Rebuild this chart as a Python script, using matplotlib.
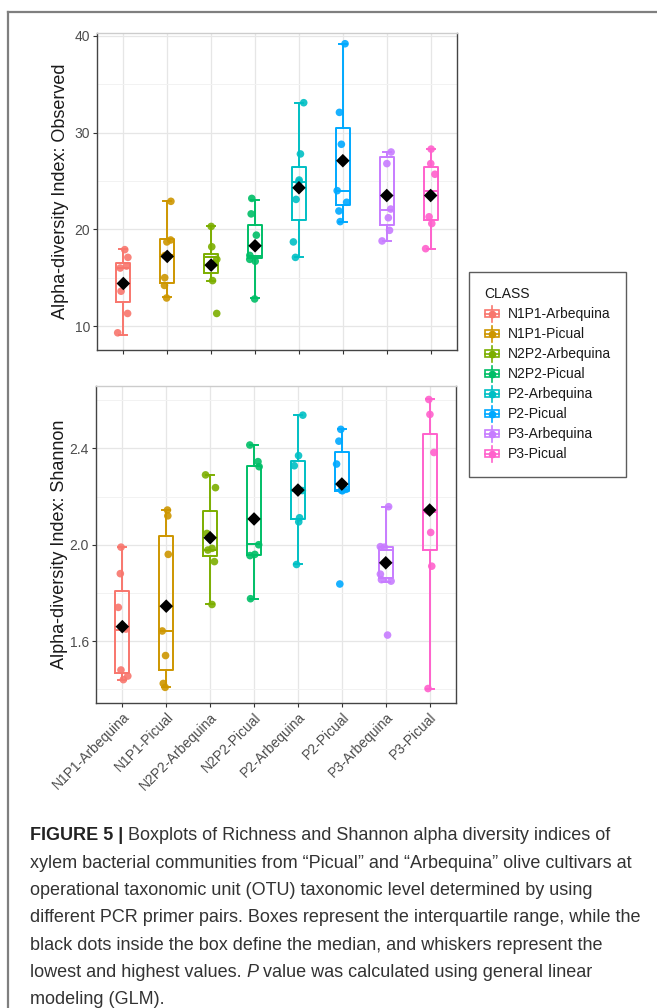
import numpy as np
import matplotlib
matplotlib.use("Agg")
import matplotlib.pyplot as plt
from matplotlib.lines import Line2D
from matplotlib.patches import Rectangle
from matplotlib.legend_handler import HandlerBase

plt.rcParams['font.family'] = ['Liberation Sans', 'DejaVu Sans']

# ---------------- data ----------------
classes = ["N1P1-Arbequina", "N1P1-Picual", "N2P2-Arbequina", "N2P2-Picual",
           "P2-Arbequina", "P2-Picual", "P3-Arbequina", "P3-Picual"]
colors = ['#F8766D', '#CD9600', '#7CAE00', '#00BE67',
          '#00BFC4', '#00A9FF', '#C77CFF', '#FF61CC']

# Observed richness
obs_points = [
    [17.9, 17.1, 16.2, 16.0, 13.6, 11.3, 9.3],
    [22.9, 18.9, 18.7, 17.3, 15.0, 14.2, 12.9],
    [20.3, 18.2, 16.9, 16.5, 14.7, 11.3],
    [23.2, 21.6, 19.4, 17.3, 16.9, 16.7, 12.8],
    [33.1, 27.8, 25.1, 24.9, 23.1, 18.7, 17.1],
    [39.2, 32.1, 28.8, 24.0, 22.8, 21.9, 20.8],
    [28.0, 26.8, 22.1, 21.2, 19.9, 18.8],
    [28.3, 26.8, 25.7, 21.3, 20.6, 18.0],
]
obs_whislo = [9.1, 13.0, 14.7, 12.9, 17.1, 20.8, 18.8, 18.0]
obs_q1 = [12.5, 14.5, 15.5, 17.0, 21.0, 22.5, 20.5, 21.0]
obs_med = [16.0, 17.3, 17.1, 17.2, 24.9, 24.0, 22.0, 24.0]
obs_q3 = [16.5, 19.0, 17.5, 20.5, 26.5, 30.5, 27.5, 26.5]
obs_whishi = [18.0, 22.9, 20.3, 23.0, 33.1, 39.2, 28.0, 28.3]
obs_mean = [14.4, 17.2, 16.3, 18.3, 24.3, 27.1, 23.5, 23.5]

# Shannon
sha_points = [
    [1.99, 1.88, 1.74, 1.65, 1.48, 1.455, 1.44],
    [2.144, 2.12, 1.96, 1.642, 1.54, 1.424, 1.408],
    [2.29, 2.237, 2.047, 1.985, 1.978, 1.93, 1.752],
    [2.414, 2.345, 2.324, 2.0, 1.96, 1.955, 1.776],
    [2.538, 2.37, 2.328, 2.225, 2.112, 2.095, 1.918],
    [2.479, 2.43, 2.335, 2.23, 2.226, 2.224, 1.837],
    [2.158, 1.992, 1.99, 1.878, 1.855, 1.849, 1.625],
    [2.603, 2.541, 2.383, 2.14, 2.051, 1.911, 1.403],
]
sha_whislo = [1.44, 1.41, 1.752, 1.776, 1.918, 2.224, 1.846, 1.403]
sha_q1 = [1.468, 1.482, 1.953, 1.957, 2.107, 2.224, 1.86, 1.98]
sha_med = [1.645, 1.642, 1.98, 2.003, 2.225, 2.227, 1.98, 2.137]
sha_q3 = [1.809, 2.037, 2.14, 2.328, 2.349, 2.383, 1.992, 2.46]
sha_whishi = [1.99, 2.145, 2.29, 2.414, 2.538, 2.479, 2.158, 2.603]
sha_mean = [1.66, 1.745, 2.029, 2.107, 2.227, 2.252, 1.925, 2.144]

obs_ticks = [10, 20, 30, 40]
obs_minor = [15, 25, 35]
sha_ticks = [1.6, 2.0, 2.4]
sha_minor = [1.4, 1.8, 2.2, 2.6]

caption_lines = [
    [("FIGURE 5 |", "bold"), (" Boxplots of Richness and Shannon alpha diversity indices of", "normal")],
    [("xylem bacterial communities from \u201cPicual\u201d and \u201cArbequina\u201d olive cultivars at", "normal")],
    [("operational taxonomic unit (OTU) taxonomic level determined by using", "normal")],
    [("different PCR primer pairs. Boxes represent the interquartile range, while the", "normal")],
    [("black dots inside the box define the median, and whiskers represent the", "normal")],
    [("lowest and highest values. ", "normal"), ("P", "italic"), (" value was calculated using general linear", "normal")],
    [("modeling (GLM).", "normal")],
]

# ---------------- figure ----------------
W, H = 657, 1008
fig = plt.figure(figsize=(W / 100, H / 100), dpi=100)
fig.patch.set_facecolor('white')


def fx(px):
    return px / W


def fy(py):
    return 1 - py / H


ax1 = fig.add_axes([fx(97), fy(350), fx(457) - fx(97), fy(33) - fy(350)])
ax2 = fig.add_axes([fx(96), fy(703), fx(456) - fx(96), fy(386) - fy(703)])

positions = np.arange(1, len(classes) + 1)
rng = np.random.default_rng(7)


def draw_panel(ax, pts, wlo, q1, med, q3, whi, mean, ylim, ticks, minor, ylabel):
    stats = []
    for i in range(len(classes)):
        stats.append(dict(whislo=wlo[i], q1=q1[i], med=med[i], q3=q3[i],
                          whishi=whi[i], fliers=[]))
    bp = ax.bxp(stats, positions=positions, widths=0.32, showfliers=False,
                capwidths=0.18, patch_artist=False, zorder=3)
    for i, c in enumerate(colors):
        bp['boxes'][i].set(color=c, linewidth=1.4)
        bp['medians'][i].set(color=c, linewidth=1.4)
        for k in (2 * i, 2 * i + 1):
            bp['whiskers'][k].set(color=c, linewidth=1.4)
            bp['caps'][k].set(color=c, linewidth=1.4)
    for i, c in enumerate(colors):
        v = np.array(pts[i])
        xj = positions[i] + rng.uniform(-0.13, 0.13, len(v))
        ax.scatter(xj, v, s=30, color=c, alpha=0.9, edgecolors='none', zorder=4)
    ax.scatter(positions, mean, marker='D', s=48, color='black', zorder=5,
               edgecolors='none')
    ax.set_xlim(0.4, len(classes) + 0.6)
    ax.set_ylim(*ylim)
    ax.set_yticks(ticks)
    ax.set_yticks(minor, minor=True)
    ax.set_xticks(positions)
    ax.grid(True, which='major', color='#e6e6e6', linewidth=0.9, zorder=0)
    ax.grid(True, which='minor', axis='y', color='#f2f2f2', linewidth=0.7, zorder=0)
    ax.set_axisbelow(True)
    ax.tick_params(axis='both', which='major', length=3, width=0.8,
                   color='#333333', labelcolor='#4d4d4d', labelsize=10, pad=2)
    ax.tick_params(axis='y', which='minor', length=0)
    for s in ('left', 'bottom', 'right'):
        ax.spines[s].set_color('#444444')
        ax.spines[s].set_linewidth(1.0)
    ax.spines['top'].set_color('#cccccc')
    ax.spines['top'].set_linewidth(1.0)
    ax.set_ylabel(ylabel, fontsize=13, color='#1a1a1a', labelpad=6)


draw_panel(ax1, obs_points, obs_whislo, obs_q1, obs_med, obs_q3, obs_whishi, obs_mean,
           (7.52, 40.31), obs_ticks, obs_minor, "Alpha-diversity Index: Observed")
ax1.set_yticklabels([str(t) for t in obs_ticks])
ax1.set_xticklabels([])

draw_panel(ax2, sha_points, sha_whislo, sha_q1, sha_med, sha_q3, sha_whishi, sha_mean,
           (1.343, 2.659), sha_ticks, sha_minor, "Alpha-diversity Index: Shannon")
ax2.set_yticklabels([f"{t:.1f}" for t in sha_ticks])
ax2.set_xticklabels(classes, rotation=45, ha='right', va='top',
                    rotation_mode='anchor', fontsize=10, color='#4d4d4d')

# align y labels
ax1.yaxis.set_label_coords(-0.078, 0.5)
ax2.yaxis.set_label_coords(-0.078, 0.5)


# ---------------- legend ----------------
class BoxHandler(HandlerBase):
    def create_artists(self, legend, orig_handle, xdescent, ydescent,
                       width, height, fontsize, trans):
        c = orig_handle.get_color()
        cx = width / 2 - xdescent
        cy = height / 2 - ydescent
        bw = width * 0.9
        bh = height * 0.55
        arts = []
        arts.append(Line2D([cx, cx], [cy - height * 0.62, cy + height * 0.62],
                           color=c, lw=1.2, transform=trans))
        r = Rectangle((cx - bw / 2, cy - bh / 2), bw, bh, facecolor='white',
                      edgecolor=c, lw=1.2, transform=trans)
        arts.append(r)
        arts.append(Line2D([cx - bw / 2, cx + bw / 2], [cy, cy], color=c, lw=1.2,
                           transform=trans))
        arts.append(Line2D([cx], [cy], marker='o', markersize=4.5, color=c,
                           linestyle='none', transform=trans))
        return arts


handles = [Line2D([], [], color=c) for c in colors]
leg = fig.legend(handles, classes, title='CLASS', loc='upper left',
                 bbox_to_anchor=(fx(469), fy(272)), bbox_transform=fig.transFigure,
                 frameon=True, fancybox=False, edgecolor='#333333', fontsize=10,
                 title_fontsize=10, handler_map={Line2D: BoxHandler()},
                 handlelength=1.1, handleheight=1.05, handletextpad=0.6,
                 labelspacing=0.42, borderpad=1.1, borderaxespad=0,
                 alignment='left')
leg.get_frame().set_linewidth(1.0)
for t in leg.get_texts():
    t.set_color('#1a1a1a')
leg.get_title().set_color('#1a1a1a')

# ---------------- outer frame ----------------
fig.add_artist(Line2D([fx(7.5), 1.0], [fy(12), fy(12)], transform=fig.transFigure,
                      color='#7f7f7f', lw=1.6))
fig.add_artist(Line2D([fx(7.5), fx(7.5)], [fy(12), 0.0], transform=fig.transFigure,
                      color='#7f7f7f', lw=1.6))

# ---------------- caption ----------------
renderer = fig.canvas.get_renderer()
cap_family = ['Liberation Sans', 'DejaVu Sans']
cap_size = 13.0
y0 = 836
dy = 27.3
for li, pieces in enumerate(caption_lines):
    xpix = 30.0
    ypix = y0 + li * dy
    for txt, style in pieces:
        kw = dict(fontsize=cap_size, family=cap_family, color='#333333',
                  va='center', ha='left')
        if style == 'bold':
            kw['fontweight'] = 'bold'
            kw['color'] = '#222222'
        if style == 'italic':
            kw['fontstyle'] = 'italic'
        t = fig.text(fx(xpix), fy(ypix), txt, **kw)
        bb = t.get_window_extent(renderer=renderer)
        xpix += bb.width

fig.savefig("out.png", dpi=100, facecolor='white')
